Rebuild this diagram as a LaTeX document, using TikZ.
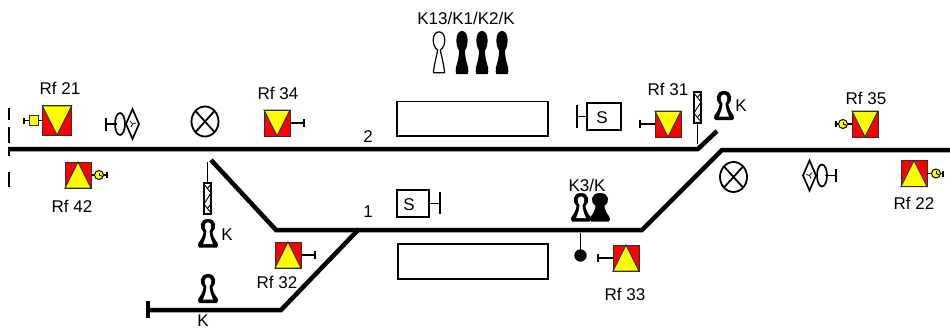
\documentclass[tikz,border=0pt]{standalone}
\usepackage{fontspec}
\setmainfont{Liberation Sans}
\definecolor{sigred}{RGB}{255,0,0}
\definecolor{sigyel}{RGB}{255,255,0}
\definecolor{sigedge}{RGB}{50,50,50}
% #1 = control x for the head width
\newcommand{\keyouter}[1]{(-.9,1) .. controls (-1.08,1) and (-1.08,.9) .. (-1,.84)
      .. controls (-.72,.72) and (-.55,.62) .. (-.46,.46)
      .. controls (-#1,.34) and (-#1,.0) .. (0,0)
      .. controls (#1,.0) and (#1,.34) .. (.46,.46)
      .. controls (.55,.62) and (.72,.72) .. (1,.84)
      .. controls (1.08,.9) and (1.08,1) .. (.9,1) -- cycle}
\tikzset{
  track/.style={line width=4.5pt,line cap=butt,line join=miter},
  thin line/.style={line width=1.3pt},
  med line/.style={line width=1.8pt},
  box line/.style={line width=1.6pt,draw=black,fill=white},
  lbl/.style={font=\fontsize{17}{17}\selectfont,text=black,inner sep=0pt},
  pics/sigdown/.style={code={
    \fill[sigred] (-13,-13) rectangle (13,13);
    \draw[line width=1pt,draw=sigedge,fill=sigyel] (-13,-13) -- (13,-13) -- (0,13) -- cycle;
    \draw[line width=1pt,draw=sigedge] (-13,-13) rectangle (13,13);}},
  pics/sigup/.style={code={
    \fill[sigred] (-13,-13) rectangle (13,13);
    \draw[line width=1pt,draw=sigedge,fill=sigyel] (-13,13) -- (13,13) -- (0,-13) -- cycle;
    \draw[line width=1pt,draw=sigedge] (-13,-13) rectangle (13,13);}},
  pics/lolli/.style={code={
    \draw[line width=1pt,fill=sigyel] (0,0) circle (4.5);
    \draw[line width=1pt] (0,0) -- (3,1.2);
    \draw[line width=1pt] (0,0) -- (0,-2.5);}},
  pics/keyblack/.style={code={\fill[black] \keyouter{1.05};}},
  pics/keytall/.style={code={\fill[black] \keyouter{1.15};}},
  pics/keyhole/.style={code={
    \fill[black] \keyouter{.92};
    \fill[white] (-.52,.88) .. controls (-.38,.76) and (-.16,.6) .. (-.16,.42)
      .. controls (-.46,.32) and (-.4,.12) .. (0,.12)
      .. controls (.4,.12) and (.46,.32) .. (.16,.42)
      .. controls (.16,.6) and (.38,.76) .. (.52,.88) -- cycle;}},
  pics/keywhite/.style={code={
    \draw[line width=1.2pt,fill=white] (-.9,.97) .. controls (-.7,.7) and (-.42,.62) .. (-.22,.44)
      .. controls (-1.2,.36) and (-1.2,.02) .. (0,.02)
      .. controls (1.2,.02) and (1.2,.36) .. (.22,.44)
      .. controls (.42,.62) and (.7,.7) .. (.9,.97) -- cycle;}},
  pics/mastsign/.style={code={
    \draw[line width=1.2pt,fill=white] (-3.5,0) rectangle (3.5,31);
    \draw[line width=.9pt] (-3.5,1) -- (3.5,10) -- (-3.5,21) -- (3.5,30);
    \draw[line width=.9pt] (3.5,1) -- (-.5,6) (3.5,21) -- (-.5,26);}},
  pics/ovaldia/.style={code={
    \draw[line width=1.6pt] (-14,0) -- (-3,0);
    \draw[line width=2.3pt] (-14,-6.5) -- (-14,6.5);
    \draw[line width=1.7pt] (0,0) ellipse (5 and 11);
    \draw[line width=1.7pt,line join=miter] (6,0) -- (12.5,-15) -- (19,0) -- (12.5,15) -- cycle;
    \draw[line width=.7pt] (10,-3) -- (12.5,0) -- (16,-1) (12.5,0) -- (11,3);}},
  pics/lamp/.style={code={
    \draw[line width=1.8pt] (0,0) ellipse (13.5 and 15);
    \draw[line width=1.8pt] (-9.5,-10.5) -- (9.5,10.5) (-9.5,10.5) -- (9.5,-10.5);}}
}
\begin{document}
\begin{tikzpicture}[x=1pt,y=-1pt]
\useasboundingbox (0,0) rectangle (950,329);
\fill[white] (0,0) rectangle (950,329);
% track points
\coordinate (tA) at (8,149);
\coordinate (tB) at (698,149);
\coordinate (tC) at (717,131);
\coordinate (tD) at (950,150);
\coordinate (tE) at (722,150);
\coordinate (tF) at (642,230);
\coordinate (tG) at (276,230);
\coordinate (tH) at (211,160);
\coordinate (tI) at (148,310);
\coordinate (tJ) at (281,310);
\coordinate (tK) at (359,229);
\draw[track] (tA) -- (tB) -- (tC);
\draw[track] (tD) -- (tE) -- (tF) -- (tG) -- (tH);
\draw[track] (tI) -- (tJ) -- (tK);
\draw[line width=3.2pt] (148,301) -- (148,318);
% dashed end
\draw[line width=1.5pt] (9,108) -- (9,120) (9,127) -- (9,143) (9,150) -- (9,156) (9,172) -- (9,187);
% platforms
\node[box line,minimum width=151pt,minimum height=34.5pt,inner sep=0pt] (platA) at (472.5,118.7) {};
\node[box line,minimum width=150pt,minimum height=35pt,inner sep=0pt] (platB) at (473,261.5) {};
% S boxes
\node[box line,minimum width=32pt,minimum height=27pt,inner sep=0pt] (sA) at (413,203.5) {};
\node[lbl] (sAt) at (409,205) {S};
\draw[med line] (sA.east) -- (440,203.5);
\draw[med line] (440,192) -- (440,214);
\node[box line,minimum width=34pt,minimum height=27pt,inner sep=0pt] (sB) at (604,116.5) {};
\node[lbl] (sBt) at (602,117.5) {S};
\draw[med line] (sB.west) -- (577,116.5);
\draw[med line] (577,105) -- (577,128);
% signals
\pic[scale=1.13] at (57,120.5) {sigdown};
\pic at (78,175) {sigup};
\pic at (277,123) {sigdown};
\pic at (288,255) {sigup};
\pic at (626,258) {sigup};
\pic at (668,124) {sigdown};
\pic at (865,124) {sigdown};
\pic at (914,173.5) {sigup};
% signal stems
\draw[thin line] (24,120.5) -- (29,120.5) (38,120.5) -- (42,120.5);
\draw[thin line] (24,117.5) -- (24,123.5);
\draw[line width=1pt,draw=sigedge,fill=sigyel] (29,115.5) rectangle (38.5,125.5);
\draw[thin line] (91,175) -- (107,175) (107,172) -- (107,178);
\pic at (99,175) {lolli};
\draw[med line] (290,123) -- (304,123);
\draw[med line] (304,119) -- (304,127);
\draw[med line] (301,255) -- (315,255);
\draw[med line] (315,251) -- (315,259);
\draw[med line] (613,258) -- (598,258);
\draw[med line] (598,254) -- (598,262);
\draw[med line] (655,124) -- (640,124);
\draw[med line] (640,120) -- (640,128);
\draw[thin line] (852,124) -- (836,124) (836,121) -- (836,127);
\pic at (843,124) {lolli};
\draw[thin line] (927,173.5) -- (943,173.5) (943,170.5) -- (943,176.5);
\pic at (936,173.5) {lolli};
% oval + diamond, lamps
\pic at (120,124) {ovaldia};
\pic[xscale=-1] at (822,175.5) {ovaldia};
\pic at (205,121.5) {lamp};
\pic at (733.5,177) {lamp};
% mast signs
\pic at (207.5,183) {mastsign};
\draw[thin line] (207.5,162) -- (207.5,183);
\pic at (697.5,92) {mastsign};
\draw[thin line] (697.5,123) -- (697.5,144);
% dwarf
\draw[thin line] (580.5,233) -- (580.5,250);
\fill (580.5,255.5) circle (6.2);
% keys
\pic[xscale=6.2,yscale=43] at (439,31) {keywhite};
\pic[xscale=6,yscale=43] at (462,31) {keytall};
\pic[xscale=6,yscale=43] at (482,31) {keytall};
\pic[xscale=6,yscale=43] at (502,31) {keytall};
\pic[xscale=9.5,yscale=28.5] at (208,219) {keyhole};
\pic[xscale=9.5,yscale=29] at (208,274) {keyhole};
\pic[xscale=9.5,yscale=28.5] at (581,193) {keyhole};
\pic[xscale=9.5,yscale=28.5] at (600,193) {keyblack};
\pic[xscale=9.5,yscale=29] at (724,91) {keyhole};
% labels
\node[lbl] (l1) at (60,88.5) {Rf 21};
\node[lbl] (l2) at (72,206) {Rf 42};
\node[lbl] (l3) at (278,93) {Rf 34};
\node[lbl] (l4) at (277,282) {Rf 32};
\node[lbl] (l5) at (625,294) {Rf 33};
\node[lbl] (l6) at (668,89) {Rf 31};
\node[lbl] (l7) at (866,98) {Rf 35};
\node[lbl] (l8) at (914,203) {Rf 22};
\node[lbl] (l9) at (466,18) {K13/K1/K2/K};
\node[lbl] (l10) at (587,185) {K3/K};
\node[lbl] (l11) at (741,106) {K};
\node[lbl] (l12) at (227,235) {K};
\node[lbl] (l13) at (203,321) {K};
\node[lbl] (l14) at (368,137) {2};
\node[lbl] (l15) at (368,212) {1};
\end{tikzpicture}
\end{document}
